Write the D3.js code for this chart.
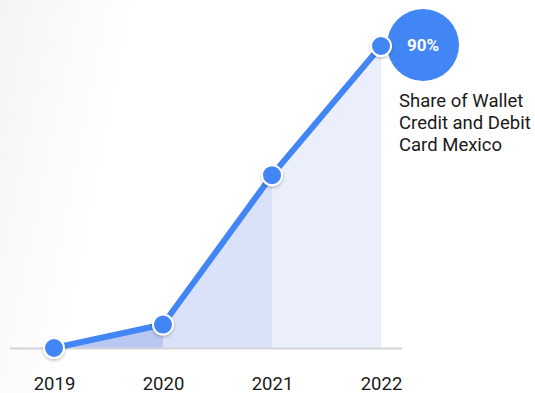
<!DOCTYPE html>
<html>
<head>
<meta charset="utf-8">
<script src="https://cdn.jsdelivr.net/npm/d3@7"></script>
<style>
  html, body { margin: 0; padding: 0; background: #fff; }
  svg { display: block; font-family: Roboto, "Noto Sans", sans-serif; }
</style>
</head>
<body>
<svg id="chart" width="535" height="393"></svg>
<script>
// Share of wallet, credit and debit card, Mexico (%)
const years = ["2019", "2020", "2021", "2022"];
const shareValues = [0, 7, 51.5, 90];
const segmentFills = ["#b9c7f3", "#dae2f9", "#ebeffb"];
const headlineLabel = "90%";
const legendLines = ["Share of Wallet", "Credit and Debit", "Card Mexico"];

const svg = d3.select("#chart");
const W = 535, H = 393;

// soft slanted shade on the left edge, fading to white
const defs = svg.append("defs");
const shade = defs.append("linearGradient").attr("id", "leftShade")
  .attr("gradientUnits", "userSpaceOnUse")
  .attr("x1", 0).attr("y1", 0).attr("x2", 134).attr("y2", 27);
shade.append("stop").attr("offset", "0%").attr("stop-color", "#f4f4f4");
shade.append("stop").attr("offset", "100%").attr("stop-color", "#ffffff");
svg.append("rect")
  .attr("width", W).attr("height", H)
  .attr("fill", "url(#leftShade)");

const dotShadow = defs.append("filter").attr("id", "dotShadow")
  .attr("x", "-50%").attr("y", "-50%").attr("width", "200%").attr("height", "200%");
dotShadow.append("feDropShadow").attr("dx", 0).attr("dy", 1.5)
  .attr("stdDeviation", 1.5).attr("flood-color", "#000").attr("flood-opacity", 0.25);

const x = d3.scalePoint().domain(years).range([54, 381]);
const y = d3.scaleLinear().domain([0, 90]).range([348, 46]);

const pts = years.map((yr, i) => ({ year: yr, value: shareValues[i] }));

// shaded area under each segment
const area = d3.area().x(d => x(d.year)).y0(y(0)).y1(d => y(d.value));
for (let i = 0; i < pts.length - 1; i++) {
  svg.append("path")
    .attr("d", area([pts[i], pts[i + 1]]))
    .attr("fill", segmentFills[i]);
}

// baseline
svg.append("line")
  .attr("x1", 10).attr("x2", 402)
  .attr("y1", y(0) + 0.5).attr("y2", y(0) + 0.5)
  .attr("stroke", "#d3d3d8").attr("stroke-width", 2);

// x axis labels
const axis = d3.axisBottom(x).tickSize(0).tickPadding(0);
const gx = svg.append("g").attr("transform", `translate(0,${377})`).call(axis);
gx.select(".domain").remove();
gx.selectAll("text")
  .attr("font-size", 18.5).attr("fill", "#1a1a1a")
  .attr("font-family", "Roboto, sans-serif");

// headline bubble
svg.append("circle")
  .attr("cx", x("2022") + 42).attr("cy", y(90) - 1).attr("r", 36)
  .attr("fill", "#4285f4");
svg.append("text")
  .attr("x", x("2022") + 42).attr("y", y(90) - 1)
  .attr("dy", "0.35em").attr("text-anchor", "middle")
  .attr("fill", "#fff").attr("font-weight", "bold").attr("font-size", 17)
  .text(headlineLabel);

// line
const line = d3.line().x(d => x(d.year)).y(d => y(d.value));
svg.append("path")
  .attr("d", line(pts))
  .attr("fill", "none").attr("stroke", "#4285f4")
  .attr("stroke-width", 6).attr("stroke-linejoin", "round");

// markers
svg.selectAll("circle.dot").data(pts).join("circle")
  .attr("class", "dot")
  .attr("cx", d => x(d.year)).attr("cy", d => y(d.value))
  .attr("r", 10)
  .attr("fill", "#4285f4").attr("stroke", "#fff").attr("stroke-width", 2)
  .attr("filter", "url(#dotShadow)");

// legend text
const legend = svg.append("text")
  .attr("x", 399).attr("y", 107)
  .attr("font-size", 18.5).attr("fill", "#1a1a1a");
legendLines.forEach((t, i) => {
  legend.append("tspan").attr("x", 399).attr("dy", i === 0 ? 0 : 22).text(t);
});
</script>
</body>
</html>
